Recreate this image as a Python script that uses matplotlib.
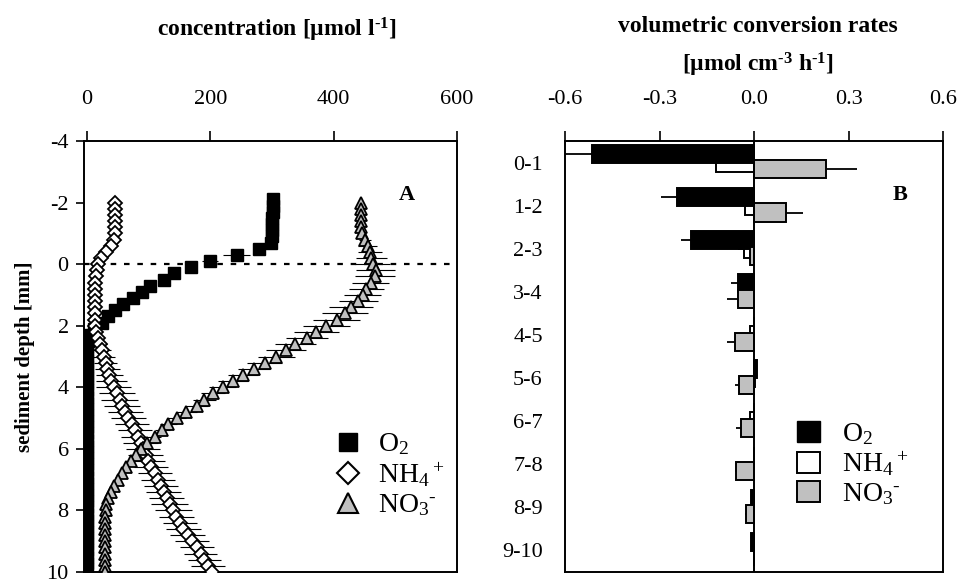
import numpy as np
import matplotlib
matplotlib.use("Agg")
import matplotlib.pyplot as plt
from matplotlib.patches import Patch
from matplotlib.lines import Line2D

plt.rcParams["font.family"] = ["Liberation Serif", "DejaVu Serif"]
plt.rcParams["mathtext.default"] = "regular"
plt.rcParams["axes.unicode_minus"] = False

# panel A: concentration profiles (depth in mm, concentration in umol/l)
depth_o2 = np.round(np.arange(-2.1, 9.95, 0.2), 1)
depth_n = np.round(np.arange(-2.0, 10.05, 0.2), 1)

o2 = [301, 301, 301, 300, 300, 300, 300, 299, 279, 243, 199, 169, 141, 124,
      102, 89, 75, 59, 45, 34, 24, 12, 4, 1,
      0, 0, 0, 0, 0, 0, 0, 0, 0, 0, 0, 0, 0, 0, 0, 0, 0, 0, 0, 0, 0, 0, 0,
      0, 0, 0, 0, 0, 0, 0, 0, 0, 0, 0, 0, 0, 0]
o2_sd = [2, 2, 2, 2, 2, 2, 2, 3, 8, 22, 13, 10, 8, 6, 5, 5, 4, 4, 4, 3, 3,
         3, 2, 1,
         0, 0, 0, 0, 0, 0, 0, 0, 0, 0, 0, 0, 0, 0, 0, 0, 0, 0, 0, 0, 0, 0, 0,
         0, 0, 0, 0, 0, 0, 0, 0, 0, 0, 0, 0, 0, 0]

nh4 = [46, 46, 46, 46, 46, 45, 44, 38, 30, 23, 18,
       16, 14, 13, 13, 13, 13, 13, 13, 13, 13,
       14, 17, 21, 24, 27, 30, 33, 36, 39, 43,
       48, 53, 57, 62, 67, 73, 78, 83, 87, 91,
       95, 99, 104, 110, 115, 120, 124, 129, 134, 140,
       145, 151, 156, 163, 170, 178, 184, 190, 196, 202]
nh4_sd = [3, 3, 3, 3, 3, 3, 3, 3, 3, 3, 3,
          4, 4, 4, 4, 4, 4, 4, 4, 4, 4,
          5, 8, 12, 15, 18, 19, 20, 22, 25, 28,
          29, 30, 29, 28, 28, 28, 28, 28, 28, 28,
          28, 28, 28, 28, 28, 28, 28, 29, 30, 30,
          29, 28, 28, 28, 28, 28, 27, 27, 28, 30]

no3 = [445, 445, 444, 444, 445, 446, 451, 455, 459, 461, 463,
       468, 467, 460, 453, 447, 440, 428, 418, 405, 388,
       372, 356, 338, 323, 307, 288, 270, 253, 237, 220,
       204, 190, 178, 161, 146, 132, 122, 110, 97, 87,
       80, 72, 63, 56, 50, 44, 39, 34, 31, 30,
       29, 29, 29, 29, 29, 29, 29, 29, 29, 29]
no3_sd = [3, 3, 3, 3, 3, 5, 10, 15, 20, 25, 28,
          32, 32, 30, 28, 30, 32, 35, 37, 38, 38,
          36, 34, 33, 32, 30, 28, 26, 25, 24, 22,
          20, 19, 18, 17, 15, 14, 12, 10, 9, 8,
          6, 5, 5, 4, 4, 3, 3, 3, 3, 2,
          2, 2, 2, 2, 2, 2, 2, 2, 2, 2]

# panel B: volumetric conversion rates (umol cm-3 h-1)
layers = ["0-1", "1-2", "2-3", "3-4", "4-5", "5-6", "6-7", "7-8", "8-9", "9-10"]
rate_o2 = [-0.514, -0.243, -0.201, -0.050, 0.0, 0.008, 0.0, 0.0, -0.008, -0.008]
err_o2 = [0.103, 0.051, 0.030, 0.024, 0, 0, 0, 0, 0, 0]
rate_nh4 = [-0.121, -0.029, -0.032, -0.010, -0.013, 0.003, -0.012, 0.0, 0.0, 0.0]
err_nh4 = [0, 0, 0.018, 0, 0, 0, 0, 0, 0, 0]
rate_no3 = [0.230, 0.102, -0.013, -0.050, -0.060, -0.048, -0.042, -0.057, -0.026, 0.0]
err_no3 = [0.096, 0.054, 0.0, 0.035, 0.027, 0.012, 0.015, 0.003, 0.004, 0.0]

HY = "\u2010"  # typographic hyphen, so superscripts are not turned into minus signs

fig = plt.figure(figsize=(9.61, 5.84), dpi=100)
ax1 = fig.add_axes([84 / 961, 12 / 584, 373 / 961, 431 / 584])
ax2 = fig.add_axes([565 / 961, 12 / 584, 378 / 961, 431 / 584])

tick_fs = 16

# ---- panel A
ax1.axhline(0, color="black", lw=1.6, ls=(0, (2.5, 3.5)), zorder=1)
ax1.errorbar(nh4, depth_n, xerr=nh4_sd, fmt="none", ecolor="black",
             elinewidth=0.8, capsize=0, zorder=2)
ax1.errorbar(no3, depth_n, xerr=no3_sd, fmt="none", ecolor="black",
             elinewidth=0.8, capsize=0, zorder=2)
ax1.errorbar(o2, depth_o2, xerr=o2_sd, fmt="none", ecolor="black",
             elinewidth=0.8, capsize=0, zorder=2)
ax1.plot(o2, depth_o2, ls="none", marker="s", ms=8, mfc="black", mec="black",
         zorder=3)
ax1.plot(nh4, depth_n, ls="none", marker="D", ms=7.5, mfc="white", mec="black",
         mew=1.3, zorder=3)
ax1.plot(no3, depth_n, ls="none", marker="^", ms=9, mfc="#c0c0c0",
         mec="black", mew=1.3, zorder=3)

ax1.set_xlim(-5, 600)
ax1.set_ylim(10, -4)
ax1.set_xticks([0, 200, 400, 600])
ax1.set_yticks([-4, -2, 0, 2, 4, 6, 8, 10])
ax1.xaxis.tick_top()
ax1.tick_params(axis="x", direction="out", length=7, width=1.2, pad=16,
                labelsize=tick_fs)
ax1.tick_params(axis="y", direction="out", length=6, width=1.2, pad=5,
                labelsize=tick_fs)
ax1.set_ylabel("sediment depth [mm]", fontsize=15, fontweight="bold",
               labelpad=8)
ax1.text(0.866, 0.875, "A", transform=ax1.transAxes, fontsize=16,
         fontweight="bold", ha="center", va="center")

leg_a = [
    Line2D([], [], ls="none", marker="s", ms=13, mfc="black", mec="black"),
    Line2D([], [], ls="none", marker="D", ms=11, mfc="white", mec="black",
           mew=1.5),
    Line2D([], [], ls="none", marker="^", ms=14, mfc="#c0c0c0", mec="black",
           mew=1.5),
]
labels = ["O$_2$", "NH$_4$$^+$", "NO$_3$$^{" + HY + "}$"]
ax1.legend(leg_a, labels, loc="center left",
           bbox_to_anchor=(0.625, 0.225), frameon=False, fontsize=20,
           handlelength=1.2, handletextpad=0.5, labelspacing=0.12,
           borderpad=0)

# ---- panel B
ypos = np.arange(len(layers))
bh = 0.42


def one_sided(vals, errs):
    lo = [e if v < 0 else 0 for v, e in zip(vals, errs)]
    hi = [e if v >= 0 else 0 for v, e in zip(vals, errs)]
    return [lo, hi]


ax2.barh(ypos, rate_nh4, height=bh, color="white", edgecolor="black",
         lw=1.4, xerr=one_sided(rate_nh4, err_nh4),
         error_kw=dict(ecolor="black", elinewidth=1.3, capsize=0), zorder=2)
ax2.barh(ypos - 0.2, rate_o2, height=bh, color="black", edgecolor="black",
         lw=1.4, xerr=one_sided(rate_o2, err_o2),
         error_kw=dict(ecolor="black", elinewidth=1.3, capsize=0), zorder=3)
ax2.barh(ypos + 0.16, rate_no3, height=bh, color="#c0c0c0", edgecolor="black",
         lw=1.4, xerr=one_sided(rate_no3, err_no3),
         error_kw=dict(ecolor="black", elinewidth=1.3, capsize=0), zorder=4)
ax2.axvline(0, color="black", lw=1.4, zorder=5)

ax2.set_xlim(-0.6, 0.6)
ax2.set_ylim(9.5, -0.5)
ax2.set_xticks([-0.6, -0.3, 0.0, 0.3, 0.6])
ax2.set_xticklabels(["-0.6", "-0.3", "0.0", "0.3", "0.6"])
ax2.set_yticks(ypos)
ax2.set_yticklabels(layers)
ax2.xaxis.tick_top()
ax2.tick_params(axis="x", direction="out", length=7, width=1.2, pad=16,
                labelsize=tick_fs)
ax2.tick_params(axis="y", length=0, pad=16, labelsize=tick_fs)
ax2.text(0.886, 0.875, "B", transform=ax2.transAxes, fontsize=16,
         fontweight="bold", ha="center", va="center")

leg_b = [
    Patch(facecolor="black", edgecolor="black"),
    Patch(facecolor="white", edgecolor="black", lw=1.4),
    Patch(facecolor="#c0c0c0", edgecolor="black", lw=1.4),
]
ax2.legend(leg_b, labels, loc="center left",
           bbox_to_anchor=(0.578, 0.25), frameon=False, fontsize=20,
           handlelength=0.8, handleheight=0.8, handletextpad=0.8,
           labelspacing=0.1, borderpad=0)

for ax in (ax1, ax2):
    for sp in ax.spines.values():
        sp.set_linewidth(1.4)

fig.text(277 / 961, 1 - 30 / 584, "concentration [µmol l$^{" + HY + "1}$]",
         ha="center", va="center", fontsize=17, fontweight="bold")
fig.text(758 / 961, 1 - 27 / 584, "volumetric conversion rates",
         ha="center", va="center", fontsize=17, fontweight="bold")
fig.text(758 / 961, 1 - 65 / 584,
         "[µmol cm$^{" + HY + "3}$ h$^{" + HY + "1}$]",
         ha="center", va="center", fontsize=17, fontweight="bold")

fig.savefig("out.png", dpi=100)
